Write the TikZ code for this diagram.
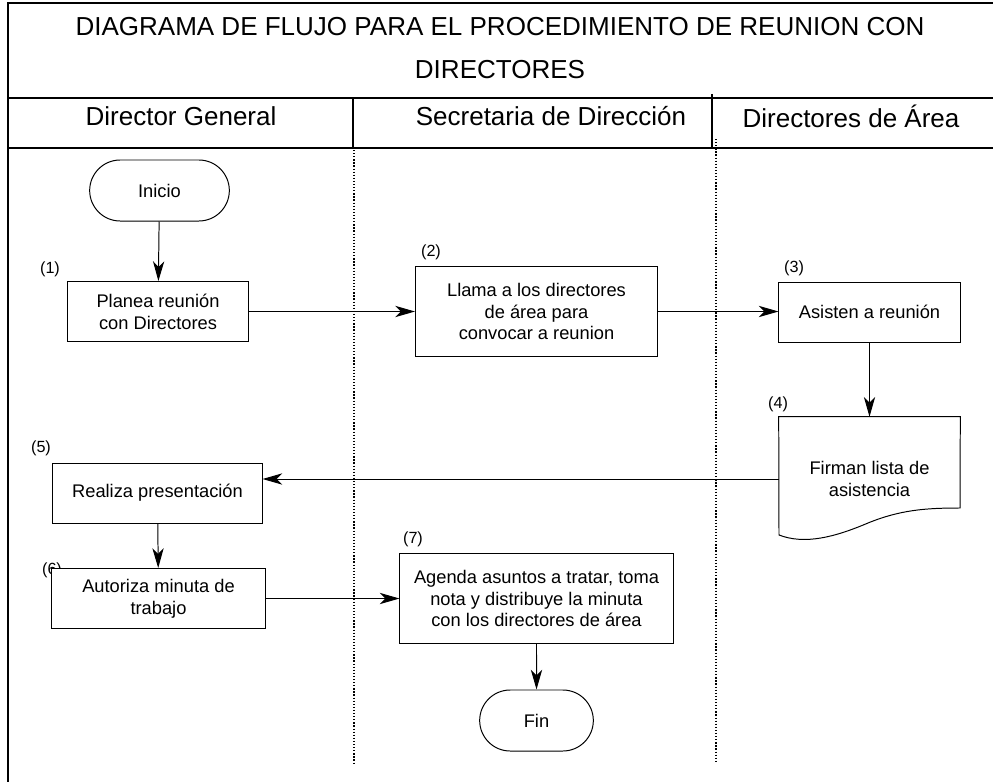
\documentclass[tikz,border=0pt]{standalone}
\usepackage{fontspec}
\setmainfont{Liberation Sans}
\usetikzlibrary{shapes.misc,arrows.meta}

\begin{document}
\begin{tikzpicture}[
x=0.025cm, y=-0.025cm,
marco/.style={line width=1.6pt},
divisor/.style={line width=0.9pt},
carril/.style={line width=0.9pt, dash pattern=on 0.9pt off 1.3pt},
titulo/.style={align=center, font=\fontsize{18.5}{30}\selectfont},
terminal/.style={rounded rectangle, draw=black, fill=white, line width=0.7pt, minimum height=1.525cm, font=\fontsize{13}{15.5}\selectfont},
proceso/.style={rectangle, draw=black, fill=white, line width=0.7pt, minimum height=1.5cm, align=center, font=\fontsize{13}{15.5}\selectfont},
documento/.style={rectangle, minimum width=4.525cm, minimum height=3.1cm, align=center, font=\fontsize{13}{15.5}\selectfont},
numero/.style={inner sep=0pt, font=\fontsize{11.5}{13}\selectfont},
flecha/.style={line width=0.7pt, -{Stealth[length=14pt, width=8pt, inset=4pt]}},
]
\useasboundingbox (0,0) rectangle (993,782);

% marco y encabezados
\draw[marco] (993,3) -- (8,3) -- (8,782);
\draw[marco] (8,98) -- (993,98);
\draw[marco] (8,148) -- (993,148);
\draw[divisor] (353,98) -- (353,148);
\draw[divisor] (712,94) -- (712,148);
\draw[carril] (354,150) -- (354,763);
\draw[carril] (716,139) -- (716,763);

\node[titulo] (tit) at (500,48) {DIAGRAMA DE FLUJO PARA EL PROCEDIMIENTO DE REUNION CON\\DIRECTORES};
\node[titulo] (dg) at (181,116) {Director General};
\node[titulo] (sd) at (551,116) {Secretaria de Dirección};
\node[titulo] (da) at (851,116) {Directores de Área};

% numeros de paso
\node[numero] (n1) at (50,269) {(1)};
\node[numero] (n2) at (431,252) {(2)};
\node[numero] (n3) at (794,268) {(3)};
\node[numero] (n4) at (778,404) {(4)};
\node[numero] (n5) at (41,448) {(5)};
\node[numero] (n6) at (52,570) {(6)};
\node[numero] (n7) at (413,539) {(7)};

% pasos
\node[terminal, minimum width=3.725cm] (ini) at (159.5,190.5) {Inicio};
\node[proceso, minimum width=4.5cm] (p1) at (158,311.5) {Planea reunión\\con Directores};
\node[proceso, minimum width=6.05cm, minimum height=2.25cm] (p2) at (536.5,311.5) {Llama a los directores\\de área para\\convocar a reunion};
\node[proceso, minimum width=4.525cm] (p3) at (869.5,312) {Asisten a reunión};
\node[documento] (p4) at (869.5,479) {Firman lista de\\asistencia};
\node[proceso, minimum width=5.225cm] (p5) at (157.5,493) {Realiza presentación};
\node[proceso, minimum width=5.325cm] (p6) at (158.5,598.5) {Autoriza minuta de\\trabajo};
\node[proceso, minimum width=6.825cm, minimum height=2.25cm] (p7) at (536.5,598.5) {Agenda asuntos a tratar, toma\\nota y distribuye la minuta\\con los directores de área};
\node[terminal, minimum width=3.075cm] (fin) at (536.5,720.5) {Fin};

% contorno del documento
\draw[line width=0.7pt] (p4.north west) -- (p4.north east) -- (960,508)
  .. controls (925,508) and (900,510) .. (868,523)
  .. controls (835,537) and (805,545) .. (779,535) -- cycle;

% conectores
\draw[flecha] (ini) -- (p1);
\draw[flecha] (p1) -- (p2);
\draw[flecha] (p2.east) -- (p2.east -| p3.west);
\draw[flecha] (p3) -- (p4);
\draw[flecha] (p4.west) -- (p4.west -| p5.east);
\draw[flecha] (p5) -- (p6);
\draw[flecha] (p6) -- (p7);
\draw[flecha] (p7) -- (fin);
\end{tikzpicture}
\end{document}
